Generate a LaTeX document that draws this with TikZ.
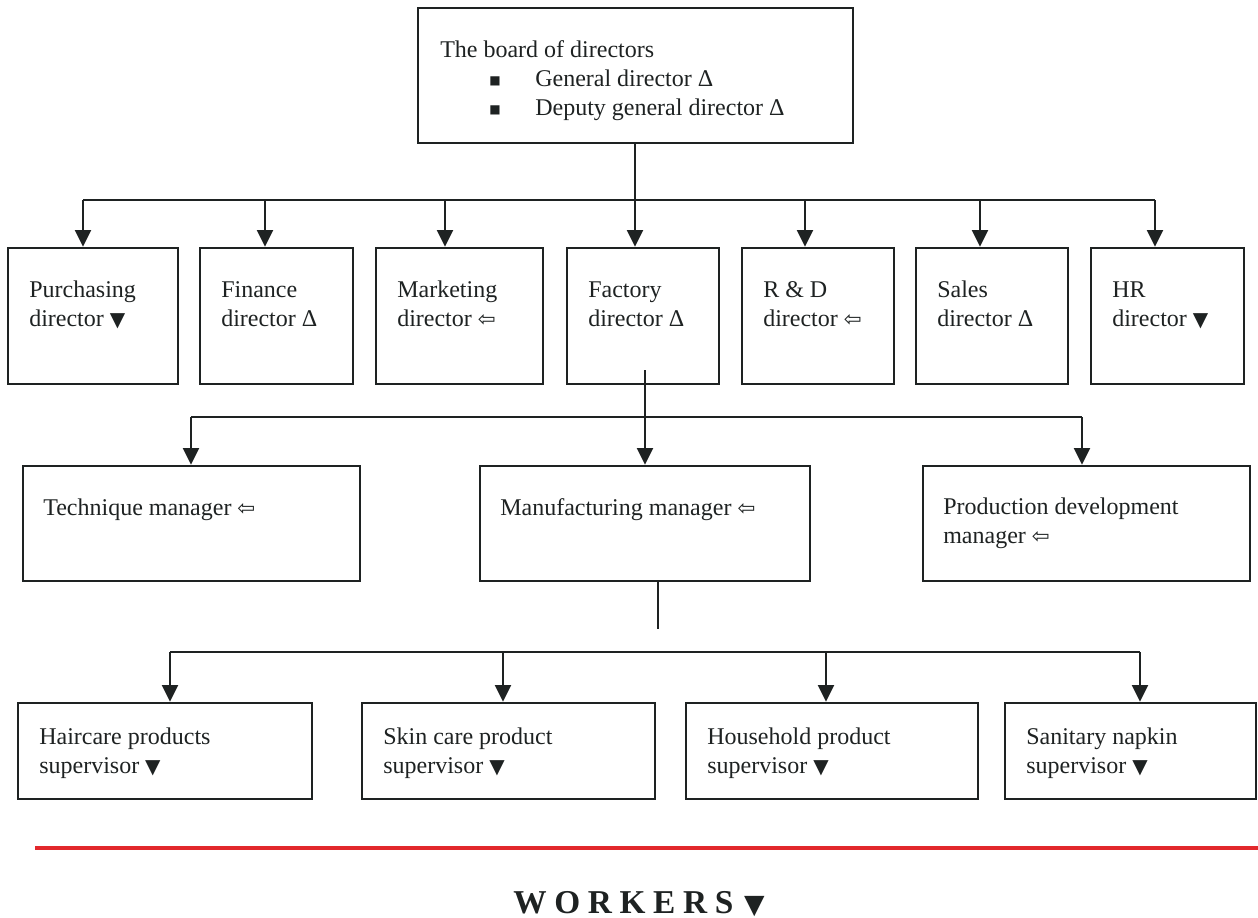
\documentclass[tikz,border=0pt]{standalone}
\usepackage{fontspec}
\setmainfont{Liberation Serif}
\newfontfamily\symfont{DejaVu Sans}
\usetikzlibrary{arrows.meta,fit}
\newcommand{\dtri}{{\symfont\fontsize{15}{15}\selectfont ▼}}
\newcommand{\larr}{{\symfont\fontsize{16}{16}\selectfont ⇦}}
\newcommand{\sqb}{\raisebox{1.5pt}{\symfont\fontsize{9}{9}\selectfont ■}}
\newcommand{\bitem}[1]{\hspace*{36.75pt}\makebox[34.5pt][l]{\sqb}#1}
\definecolor{ink}{HTML}{1E2222}
\definecolor{redline}{HTML}{E2282C}
\tikzset{
  box/.style={draw=ink, line width=2pt, inner sep=0pt},
  txt/.style={anchor=base west, align=left, inner sep=0pt, text=ink,
              font=\fontsize{18}{21.4}\selectfont},
  ln/.style={draw=ink, line width=1.5pt},
  arr/.style={draw=ink, line width=1.5pt, -{Triangle[length=12.5pt,width=12pt]}}
}
\begin{document}
\begin{tikzpicture}[x=0.75pt,y=-0.75pt]
\useasboundingbox (0,0) rectangle (1258,918);

% top box (base anchor = baseline of last line)
\node[box, fit={(418,8) (853,143)}] (board) {};
\node[txt] (boardT) at (440,115) {The board of directors\\
  \bitem{General director Δ}\\
  \bitem{Deputy general director Δ}};

% row 1
\node[box, fit={(8,248) (178,384)}] (purch) {};
\node[box, fit={(200,248) (353,384)}] (fin) {};
\node[box, fit={(376,248) (543,384)}] (mkt) {};
\node[box, fit={(567,248) (719,384)}] (fac) {};
\node[box, fit={(742,248) (894,384)}] (rd) {};
\node[box, fit={(916,248) (1068,384)}] (sales) {};
\node[box, fit={(1091,248) (1244,384)}] (hr) {};
\node[txt] (purchT) at (29,326) {Purchasing\\director \dtri};
\node[txt] (finT) at (221,326) {Finance\\director Δ};
\node[txt] (mktT) at (397,326) {Marketing\\director \larr};
\node[txt] (facT) at (588,326) {Factory\\director Δ};
\node[txt] (rdT) at (763,326) {R \& D\\director \larr};
\node[txt] (salesT) at (937,326) {Sales\\director Δ};
\node[txt] (hrT) at (1112,326) {HR\\director \dtri};

% row 2
\node[box, fit={(23,466) (360,581)}] (tech) {};
\node[box, fit={(480,466) (810,581)}] (manu) {};
\node[box, fit={(923,466) (1250,581)}] (prod) {};
\node[txt] (techT) at (43,515) {Technique manager \larr};
\node[txt] (manuT) at (500,515) {Manufacturing manager \larr};
\node[txt] (prodT) at (943,543) {Production development\\manager \larr};

% row 3
\node[box, fit={(18,703) (312,799)}] (hair) {};
\node[box, fit={(362,703) (655,799)}] (skin) {};
\node[box, fit={(686,703) (978,799)}] (house) {};
\node[box, fit={(1005,703) (1256,799)}] (sani) {};
\node[txt] (hairT) at (39,773) {Haircare products\\supervisor \dtri};
\node[txt] (skinT) at (383,773) {Skin care product\\supervisor \dtri};
\node[txt] (houseT) at (707,773) {Household product\\supervisor \dtri};
\node[txt] (saniT) at (1026,773) {Sanitary napkin\\supervisor \dtri};

% bus 1
\coordinate (a1) at (83,200);
\coordinate (a2) at (265,200);
\coordinate (a3) at (445,200);
\coordinate (a4) at (635,200);
\coordinate (a5) at (805,200);
\coordinate (a6) at (980,200);
\coordinate (a7) at (1155,200);
\draw[ln] (board.south -| a4) -- (a4);
\draw[ln] (a1) -- (a7);
\draw[arr] (a1) -- (a1 |- purch.north);
\draw[arr] (a2) -- (a2 |- fin.north);
\draw[arr] (a3) -- (a3 |- mkt.north);
\draw[arr] (a4) -- (a4 |- fac.north);
\draw[arr] (a5) -- (a5 |- rd.north);
\draw[arr] (a6) -- (a6 |- sales.north);
\draw[arr] (a7) -- (a7 |- hr.north);

% bus 2
\coordinate (f0) at (645,370);
\coordinate (b1) at (191,417);
\coordinate (b2) at (645,417);
\coordinate (b3) at (1082,417);
\draw[ln] (f0) -- (b2);
\draw[ln] (b1) -- (b3);
\draw[arr] (b1) -- (b1 |- tech.north);
\draw[arr] (b2) -- (b2 |- manu.north);
\draw[arr] (b3) -- (b3 |- prod.north);

% bus 3
\coordinate (m0) at (658,629);
\coordinate (c1) at (170,652);
\coordinate (c2) at (503,652);
\coordinate (c3) at (826,652);
\coordinate (c4) at (1140,652);
\draw[ln] (m0 |- manu.south) -- (m0);
\draw[ln] (c1) -- (c4);
\draw[arr] (c1) -- (c1 |- hair.north);
\draw[arr] (c2) -- (c2 |- skin.north);
\draw[arr] (c3) -- (c3 |- house.north);
\draw[arr] (c4) -- (c4 |- sani.north);

% red line and workers
\coordinate (r0) at (35,848);
\coordinate (r1) at (1258,848);
\draw[draw=redline, line width=2.4pt] (r0) -- (r1);
\node[anchor=base west, inner sep=0pt, text=ink] (workers) at (513,913)
  {\fontsize{25}{30}\selectfont\bfseries\addfontfeature{LetterSpace=23}WORKERS\hspace{8pt}{\symfont\fontsize{20}{20}\selectfont ▼}};
\end{tikzpicture}
\end{document}
